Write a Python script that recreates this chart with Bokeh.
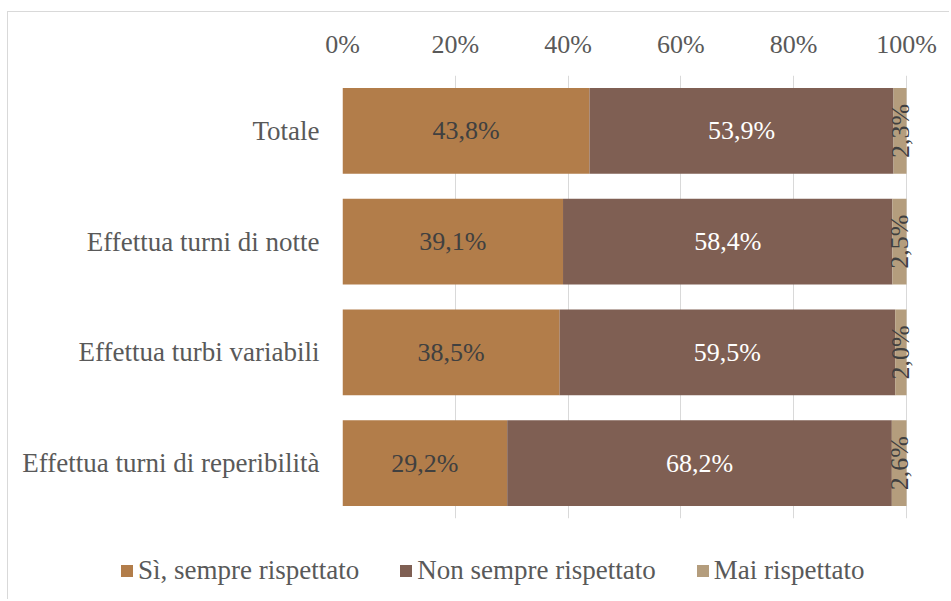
import math
from bokeh.plotting import figure
from bokeh.models import (ColumnDataSource, FactorRange, FixedTicker, PrintfTickFormatter,
                          Legend, LegendItem, LabelSet, Range1d)
from bokeh.embed import file_html
from bokeh.resources import INLINE

categories = ["Totale", "Effettua turni di notte", "Effettua turbi variabili",
              "Effettua turni di reperibilità"]
series_names = ["Sì, sempre rispettato", "Non sempre rispettato", "Mai rispettato"]
si_sempre = [43.8, 39.1, 38.5, 29.2]
non_sempre = [53.9, 58.4, 59.5, 68.2]
mai = [2.3, 2.5, 2.0, 2.6]
x_ticks = [0, 20, 40, 60, 80, 100]

colors = ["#B27D4A", "#7F5F53", "#B49D7D"]
label_colors = ["#404040", "#FFFFFF", "#404040"]
FONT = "Liberation Serif"
FS = "26px"
TXT = "#595959"

series = [si_sempre, non_sempre, mai]

p = figure(width=942, height=530,
           y_range=FactorRange(*reversed(categories)),
           x_range=Range1d(0, 575 / 5.64),
           x_axis_location="above",
           output_backend="svg", toolbar_location=None,
           min_border_left=334, min_border_right=33,
           min_border_top=63, min_border_bottom=24,
           styles={"margin-left": "7px", "margin-top": "11px",
                   "border-top": "1px solid #D9D9D9", "border-left": "1px solid #D9D9D9"})
p.outline_line_color = None
p.background_fill_color = "white"
p.border_fill_color = "white"

left = [0.0] * len(categories)
for i, vals in enumerate(series):
    right = [l + v for l, v in zip(left, vals)]
    mid = [(l + r) / 2 for l, r in zip(left, right)]
    src = ColumnDataSource(dict(
        cat=categories, left=left, right=right, mid=mid,
        txt=[("%.1f%%" % v).replace(".", ",") for v in vals],
    ))
    p.hbar(y="cat", left="left", right="right", height=0.775, source=src,
           fill_color=colors[i], line_color=None)
    lbl = LabelSet(x="mid", y="cat", text="txt", source=src,
                   text_align="center", text_baseline="middle",
                   text_font=FONT, text_font_size=FS, text_color=label_colors[i],
                   angle=(math.pi / 2 if i == 2 else 0))
    p.add_layout(lbl)
    left = right

p.xaxis.ticker = FixedTicker(ticks=x_ticks)
p.xaxis.formatter = PrintfTickFormatter(format="%d%%")
for ax in [p.xaxis[0], p.yaxis[0]]:
    ax.axis_line_color = None
    ax.major_tick_line_color = None
    ax.minor_tick_line_color = None
    ax.major_label_text_font = FONT
    ax.major_label_text_font_size = FS
    ax.major_label_text_color = TXT
p.yaxis.major_label_text_font_size = "27px"
p.xaxis.major_label_standoff = 11
p.yaxis.major_label_standoff = 17

p.xgrid.grid_line_color = "#D9D9D9"
p.xgrid.grid_line_width = 1
p.ygrid.grid_line_color = None

# legend-only strip below the chart (separate root so its frame is not aligned)
p2 = figure(width=942, height=58, x_range=Range1d(10, 11), y_range=Range1d(10, 11),
            x_axis_location=None, y_axis_location=None,
            output_backend="svg", toolbar_location=None,
            min_border_left=0, min_border_right=0, min_border_top=0, min_border_bottom=0,
            styles={"margin-left": "7px", "border-left": "1px solid #D9D9D9"})
p2.outline_line_color = None
p2.xgrid.grid_line_color = None
p2.ygrid.grid_line_color = None
leg_renderers = [p2.hbar(y=[0], left=[0], right=[1], height=1, fill_color=c, line_color=None)
                 for c in colors]
legend = Legend(
    items=[LegendItem(label=n, renderers=[r]) for n, r in zip(series_names, leg_renderers)],
    orientation="horizontal", location=(111, 13),
    glyph_width=15, glyph_height=15, label_standoff=4, spacing=39,
    padding=0, margin=0, border_line_color=None, background_fill_alpha=0,
    label_text_font=FONT, label_text_font_size="27px", label_text_color=TXT,
)
p2.add_layout(legend, "center")

open("out.html", "w").write(file_html([p, p2], INLINE))
